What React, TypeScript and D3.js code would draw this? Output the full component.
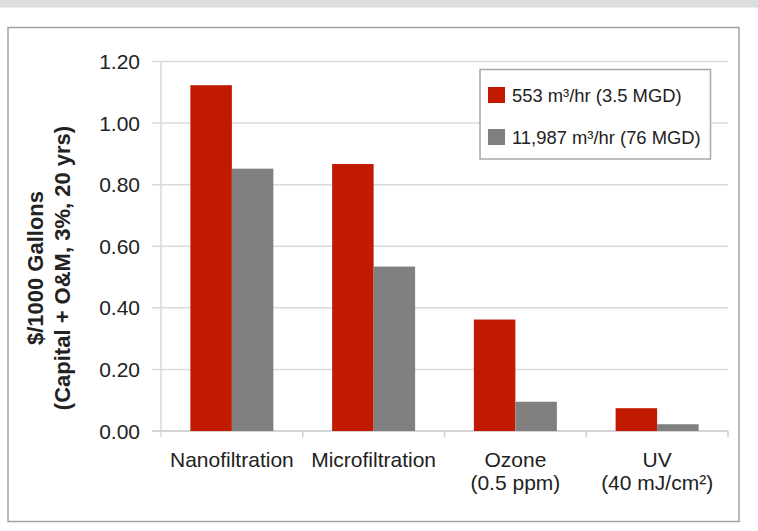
import React from "react";
import * as d3 from "d3";

const categories = ["Nanofiltration", "Microfiltration", "Ozone|(0.5 ppm)", "UV|(40 mJ/cm²)"];
const seriesNames = ["553 m³/hr (3.5 MGD)", "11,987 m³/hr (76 MGD)"];
const smallPlant = [1.123, 0.867, 0.362, 0.074];
const largePlant = [0.852, 0.534, 0.095, 0.022];
const yTicks = [0, 0.2, 0.4, 0.6, 0.8, 1.0, 1.2];
const seriesColors = ["#c21a00", "#808080"];

const W = 758;
const H = 531;
const FONT = "'Liberation Sans', Arial, Helvetica, sans-serif";

export default function App() {
  const left = 161;
  const right = 728;
  const top = 61.5;
  const bottom = 431;

  const x0 = d3.scaleBand<string>().domain(categories).range([left, right]).paddingInner(0).paddingOuter(0);
  const x1 = d3.scaleBand<string>().domain(seriesNames).range([0, x0.bandwidth()]).paddingInner(0).paddingOuter(0.708);
  const y = d3.scaleLinear().domain([0, 1.2]).range([bottom, top]);
  const series = [smallPlant, largePlant];
  const boundaries = categories.map((c) => (x0(c) as number) + x0.bandwidth());

  return (
    <div style={{ position: "fixed", left: 0, top: 0 }}>
      <svg width={W} height={H} style={{ display: "block", background: "#fff" }}>
        <rect x={0} y={0} width={W} height={7.5} fill="#dcdddf" />
        <rect x={8} y={27.5} width={731} height={494} fill="#fff" stroke="#a3a3a3" strokeWidth={1.5} />

        {yTicks.map((t) => (
          <g key={t}>
            <line x1={152} x2={right} y1={y(t)} y2={y(t)} stroke="#dadada" strokeWidth={1.5} />
            <text x={140} y={y(t) + 7.5} textAnchor="end" fontFamily={FONT} fontSize={21} fill="#222">
              {t.toFixed(2)}
            </text>
          </g>
        ))}
        <line x1={left} x2={left} y1={top} y2={bottom + 6} stroke="#d9d9d9" strokeWidth={1.5} />
        {boundaries.map((b, i) => (
          <line key={i} x1={b} x2={b} y1={bottom} y2={bottom + 6} stroke="#d0d0d0" strokeWidth={1.5} />
        ))}
        <line x1={152} x2={right} y1={bottom} y2={bottom} stroke="#d0d0d0" strokeWidth={1.5} />

        {categories.map((c, ci) =>
          series.map((s, si) => {
            const bx = (x0(c) as number) + (x1(seriesNames[si]) as number);
            return (
              <rect
                key={c + si}
                x={bx}
                y={y(s[ci])}
                width={x1.bandwidth()}
                height={bottom - y(s[ci])}
                fill={seriesColors[si]}
              />
            );
          })
        )}

        {categories.map((c) => {
          const cx = (x0(c) as number) + x0.bandwidth() / 2;
          return (
            <text key={c} x={cx} y={467} textAnchor="middle" fontFamily={FONT} fontSize={21} fill="#222">
              {c.split("|").map((line, li) => (
                <tspan key={li} x={cx} dy={li === 0 ? 0 : 23}>
                  {line}
                </tspan>
              ))}
            </text>
          );
        })}

        <g transform="translate(0,268) rotate(-90)">
          <text x={0} y={43} textAnchor="middle" fontFamily={FONT} fontSize={22} fontWeight="bold" fill="#222">
            $/1000 Gallons
          </text>
          <text x={0} y={70} textAnchor="middle" fontFamily={FONT} fontSize={22} fontWeight="bold" fill="#222">
            (Capital + O&amp;M, 3%, 20 yrs)
          </text>
        </g>

        <rect x={480} y={69.5} width={230.5} height={89.5} fill="#fff" stroke="#a8a8a8" strokeWidth={1.5} />
        {seriesNames.map((n, i) => (
          <g key={n} transform={`translate(0, ${i * 42})`}>
            <rect x={488} y={87} width={17} height={16} fill={seriesColors[i]} />
            <text x={512} y={102} fontFamily={FONT} fontSize={18.4} fill="#222">
              {n}
            </text>
          </g>
        ))}
      </svg>
    </div>
  );
}
